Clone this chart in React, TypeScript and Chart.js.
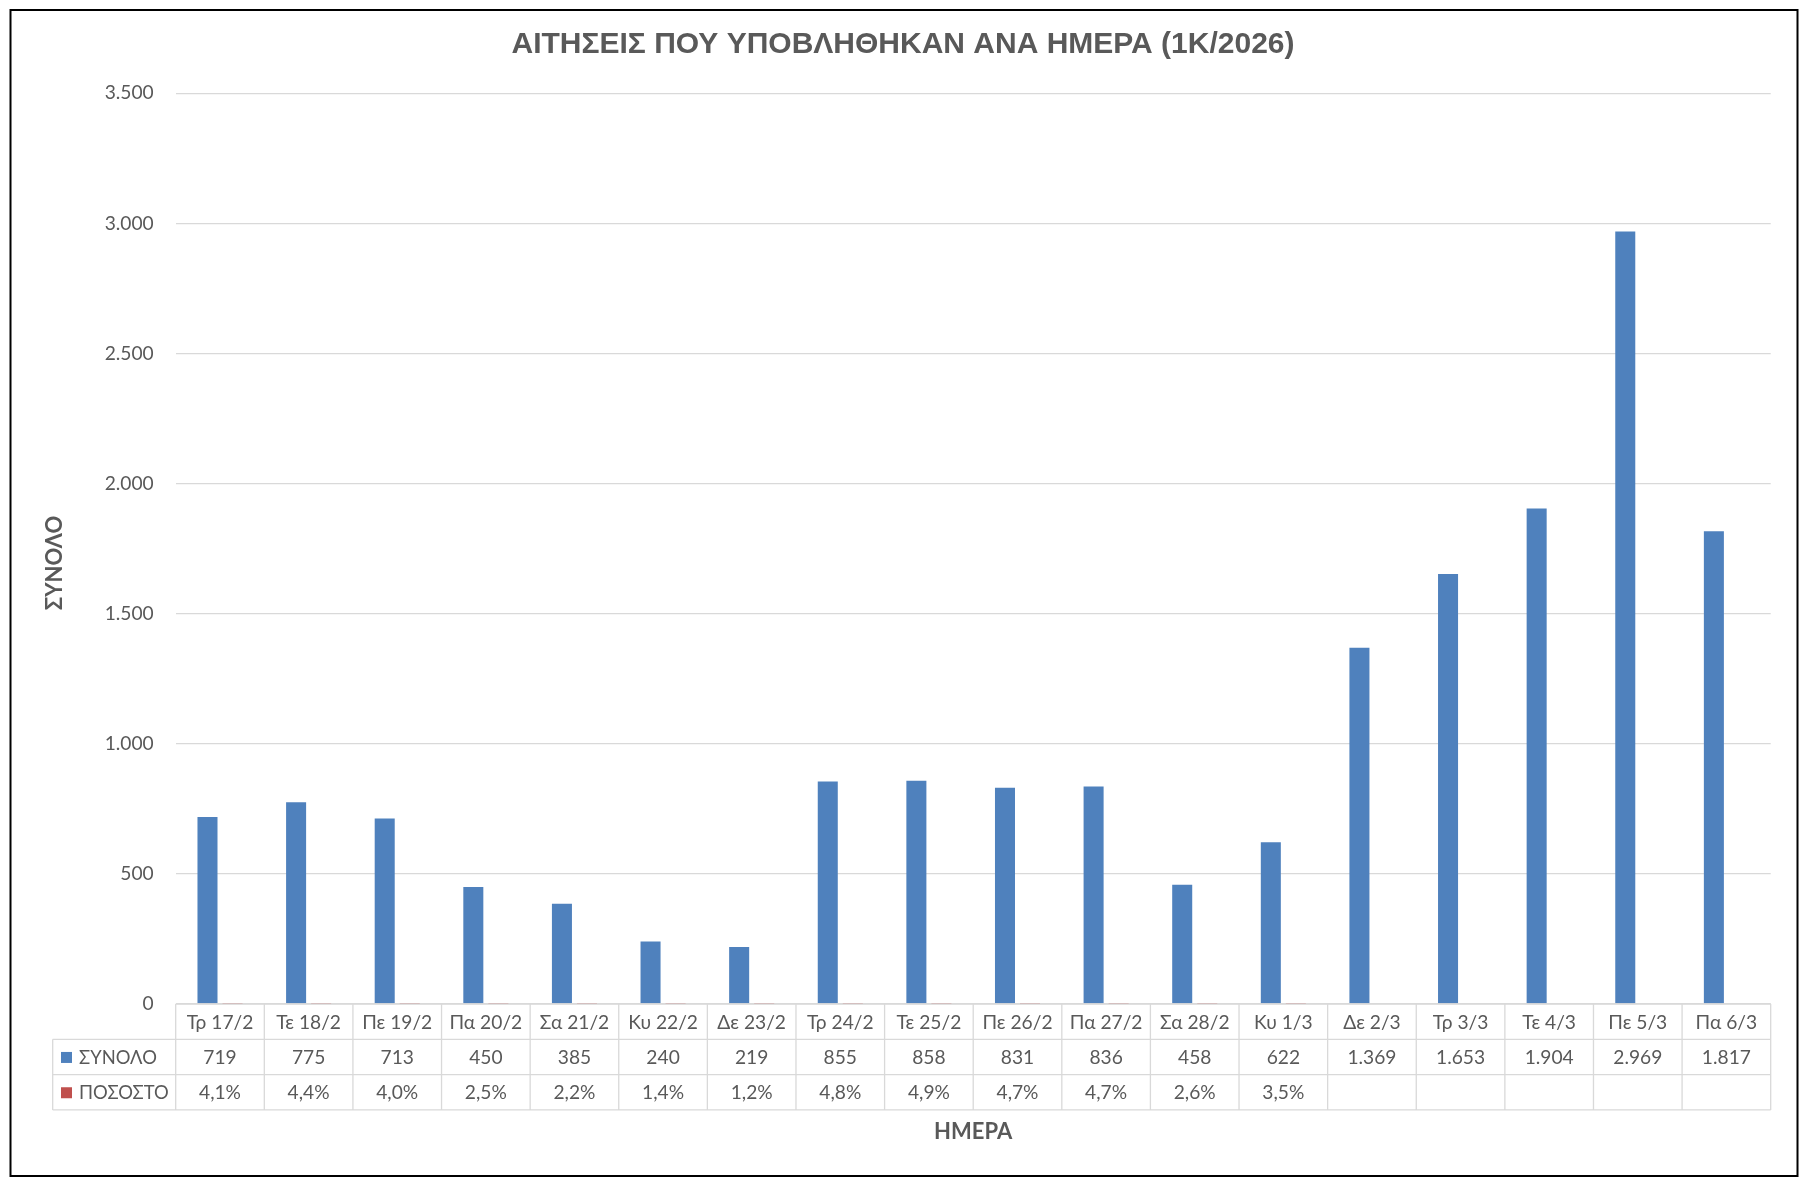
import React, { useEffect, useRef } from "react";
import { Chart, registerables } from "chart.js";

Chart.register(...registerables);

const chartTitle = "ΑΙΤΗΣΕΙΣ ΠΟΥ ΥΠΟΒΛΗΘΗΚΑΝ ΑΝΑ ΗΜΕΡΑ (1Κ/2026)";
const yAxisTitle = "ΣΥΝΟΛΟ";
const xAxisTitle = "ΗΜΕΡΑ";

const categories = [
  "Τρ 17/2", "Τε 18/2", "Πε 19/2", "Πα 20/2", "Σα 21/2", "Κυ 22/2",
  "Δε 23/2", "Τρ 24/2", "Τε 25/2", "Πε 26/2", "Πα 27/2", "Σα 28/2",
  "Κυ 1/3", "Δε 2/3", "Τρ 3/3", "Τε 4/3", "Πε 5/3", "Πα 6/3",
];

const totalLabel = "ΣΥΝΟΛΟ";
const totalValues = [
  719, 775, 713, 450, 385, 240, 219, 855, 858, 831, 836, 458, 622,
  1369, 1653, 1904, 2969, 1817,
];

const percentLabel = "ΠΟΣΟΣΤΟ";
const percentValues: (number | null)[] = [
  4.1, 4.4, 4.0, 2.5, 2.2, 1.4, 1.2, 4.8, 4.9, 4.7, 4.7, 2.6, 3.5,
  null, null, null, null, null,
];

const yMin = 0;
const yMax = 3500;
const yStep = 500;

const BLUE = "#4F81BD";
const RED = "#C0504D";
const TEXT = "#595959";
const GRID = "#D9D9D9";
const FONT = 'Lato, "Open Sans", "Noto Sans", sans-serif';
const LABEL_SIZE = 19.2;

function fmtInt(v: number): string {
  return String(Math.round(v)).replace(/\B(?=(\d{3})+(?!\d))/g, ".");
}
function fmtPct(v: number): string {
  return v.toFixed(1).replace(".", ",") + "%";
}

const decorPlugin = {
  id: "decor",
  beforeDraw(chart: any) {
    const ctx = chart.ctx;
    ctx.save();
    ctx.fillStyle = "#ffffff";
    ctx.fillRect(0, 0, chart.width, chart.height);
    ctx.restore();
  },
  afterDraw(chart: any) {
    const ctx: CanvasRenderingContext2D = chart.ctx;
    const area = chart.chartArea;
    const xs = chart.scales.x;
    const n = categories.length;
    const cw = (xs.right - xs.left) / n;
    const rowH = 35.3;
    const top = area.bottom;
    const legendLeft = 52.7;

    ctx.save();
    // table grid
    ctx.strokeStyle = GRID;
    ctx.lineWidth = 1.3;
    ctx.beginPath();
    ctx.moveTo(xs.left, top);
    ctx.lineTo(xs.right, top);
    for (let r = 1; r <= 3; r++) {
      const y = top + r * rowH;
      ctx.moveTo(legendLeft, y);
      ctx.lineTo(xs.right, y);
    }
    for (let i = 0; i <= n; i++) {
      const x = xs.getPixelForValue(0) - cw / 2 + i * cw;
      ctx.moveTo(x, top);
      ctx.lineTo(x, top + 3 * rowH);
    }
    ctx.moveTo(legendLeft, top + rowH);
    ctx.lineTo(legendLeft, top + 3 * rowH);
    ctx.stroke();

    // table text
    ctx.fillStyle = TEXT;
    ctx.font = `${LABEL_SIZE}px ${FONT}`;
    ctx.textAlign = "center";
    ctx.textBaseline = "middle";
    for (let i = 0; i < n; i++) {
      const cx = xs.getPixelForValue(i);
      ctx.fillText(categories[i], cx, top + rowH * 0.5 + 1);
      ctx.fillText(fmtInt(totalValues[i]), cx, top + rowH * 1.5 + 1);
      const p = percentValues[i];
      if (p != null) ctx.fillText(fmtPct(p), cx, top + rowH * 2.5 + 1);
    }

    // legend keys
    ctx.textAlign = "left";
    ctx.fillStyle = BLUE;
    ctx.fillRect(61, top + rowH * 1.5 - 5, 11, 11);
    ctx.fillStyle = RED;
    ctx.fillRect(61, top + rowH * 2.5 - 5, 11, 11);
    ctx.fillStyle = TEXT;
    ctx.font = `18.4px ${FONT}`;
    ctx.fillText(totalLabel, 79, top + rowH * 1.5 + 1);
    ctx.fillText(percentLabel, 79, top + rowH * 2.5 + 1);

    // main title
    ctx.fillStyle = TEXT;
    ctx.font = `bold 30px "Liberation Sans", Arial, sans-serif`;
    ctx.textAlign = "center";
    ctx.textBaseline = "middle";
    ctx.fillText(chartTitle, 903, 45);

    // axis titles
    ctx.font = `bold 22px ${FONT}`;
    ctx.fillText(xAxisTitle, (xs.left + xs.right) / 2, 1132);
    ctx.save();
    ctx.translate(55, 563);
    ctx.rotate(-Math.PI / 2);
    ctx.fillText(yAxisTitle, 0, 0);
    ctx.restore();

    // outer frame
    ctx.strokeStyle = "#000000";
    ctx.lineWidth = 2;
    ctx.strokeRect(10.5, 10, 1787, 1166);
    ctx.restore();
  },
};

export default function App() {
  const ref = useRef<HTMLCanvasElement | null>(null);
  useEffect(() => {
    if (!ref.current) return;
    const chart = new Chart(ref.current, {
      type: "bar",
      data: {
        labels: categories,
        datasets: [
          {
            label: totalLabel,
            data: totalValues,
            backgroundColor: BLUE,
            categoryPercentage: 0.565,
            barPercentage: 0.8,
          },
          {
            label: percentLabel,
            data: percentValues.map((v) => (v == null ? null : v / 100)),
            backgroundColor: RED,
            categoryPercentage: 0.565,
            barPercentage: 0.8,
          },
        ],
      },
      options: {
        responsive: false,
        animation: false,
        devicePixelRatio: 1,
        layout: { padding: { left: 0, top: 93.3, right: 34.3, bottom: 178 } },
        plugins: {
          legend: { display: false },
          title: { display: false },
          tooltip: { enabled: false },
        },
        scales: {
          x: { display: false, offset: true },
          y: {
            min: yMin,
            max: yMax,
            ticks: {
              stepSize: yStep,
              padding: 22,
              color: TEXT,
              font: { family: FONT, size: LABEL_SIZE },
              callback: (v: any) => fmtInt(Number(v)),
            },
            grid: { color: GRID, lineWidth: 1.3, drawTicks: false },
            border: { display: false },
            afterFit: (s: any) => {
              s.width = 175.7;
            },
          },
        },
      },
      plugins: [decorPlugin],
    } as any);
    return () => chart.destroy();
  }, []);
  return (
    <div style={{ position: "absolute", left: 0, top: 0, width: 1805, height: 1182, background: "#fff" }}>
      <canvas ref={ref} width={1805} height={1182} style={{ display: "block" }} />
    </div>
  );
}
